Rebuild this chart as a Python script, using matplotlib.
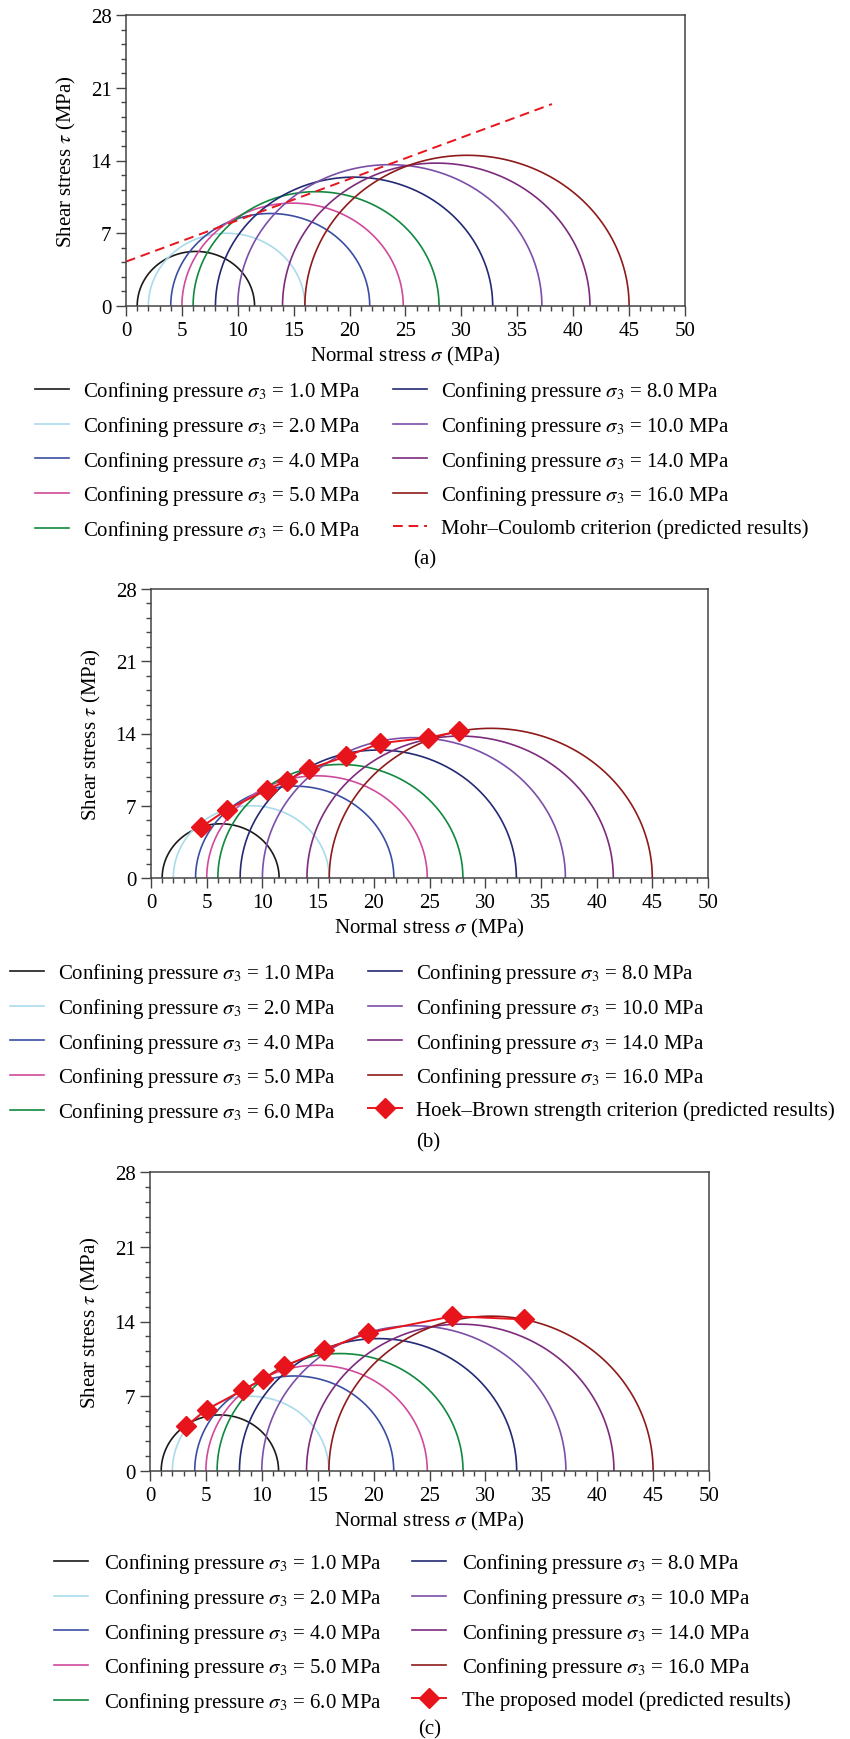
import numpy as np
from matplotlib import pyplot as plt
from matplotlib.ticker import MultipleLocator

plt.rcParams['font.family'] = ['Liberation Serif', 'DejaVu Serif']
plt.rcParams['mathtext.fontset'] = 'stix'

# Mohr circles: confining pressure sigma3 and peak stress sigma1, MPa
sigma3 = [1.0, 2.0, 4.0, 5.0, 6.0, 8.0, 10.0, 14.0, 16.0]
sigma1 = [11.5, 16.0, 21.8, 24.8, 28.0, 32.8, 37.2, 41.5, 45.0]
colors = ['#1a1a1a', '#a9dbeb', '#3b4ea3', '#d04a9c', '#10893f',
          '#232a74', '#7b4fa8', '#7d2b7d', '#8e1a1a']

# Mohr-Coulomb envelope (end points)
mc_sigma = [0.0, 38.1]
mc_tau = [4.27, 19.43]

# Hoek-Brown predicted points
hb_sigma = [4.47, 6.80, 10.41, 12.2, 14.16, 17.53, 20.55, 24.91, 27.66]
hb_tau = [4.91, 6.62, 8.53, 9.43, 10.56, 11.79, 13.05, 13.6, 14.21]

# proposed model predicted points
pm_sigma = [3.25, 5.07, 8.29, 10.07, 11.99, 15.55, 19.49, 27.05, 33.46]
pm_tau = [4.24, 5.75, 7.57, 8.58, 9.81, 11.35, 12.92, 14.49, 14.2]

W, H = 850, 1740
fig = plt.figure(figsize=(W / 100, H / 100), dpi=100)
FS = 15
GREY = '#444444'
RED = '#e8141c'


def px_axes(left, top, right, bottom):
    return fig.add_axes([left / W, 1 - bottom / H, (right - left) / W,
                         (bottom - top) / H])


def draw_circles(ax):
    handles = []
    for s3, s1, c in zip(sigma3, sigma1, colors):
        centre = (s1 + s3) / 2
        r = (s1 - s3) / 2
        th = np.linspace(np.pi, 0, 200)
        line, = ax.plot(centre + r * np.cos(th), r * np.sin(th), color=c,
                        lw=1.2)
        handles.append(line)
    return handles


def style(ax):
    ax.set_xlim(0, 50)
    ax.set_ylim(0, 28)
    ax.xaxis.set_major_locator(MultipleLocator(5))
    ax.xaxis.set_minor_locator(MultipleLocator(1))
    ax.yaxis.set_major_locator(MultipleLocator(7))
    ax.yaxis.set_minor_locator(MultipleLocator(1.4))
    ax.tick_params(which='both', direction='out', color=GREY,
                   labelsize=FS, top=False, right=False)
    ax.tick_params(which='major', length=7, width=1)
    ax.tick_params(which='minor', length=3.5, width=1)
    for sp in ax.spines.values():
        sp.set_color(GREY)
        sp.set_linewidth(1.1)
    ax.set_xlabel(r'Normal stress $\sigma$ (MPa)', fontsize=FS, labelpad=3)
    ax.set_ylabel(r'Shear stress $\tau$ (MPa)', fontsize=FS, labelpad=9)


def legends(ax, handles, labels, x1, x2, top, pad):
    kw = dict(loc='upper left', frameon=False, fontsize=FS,
              handlelength=1.65, handletextpad=pad / (FS * 100 / 72),
              labelspacing=0.52, borderpad=0, borderaxespad=0,
              bbox_transform=fig.transFigure)
    leg1 = ax.legend(handles[:5], labels[:5],
                     bbox_to_anchor=(x1 / W, 1 - top / H), **kw)
    ax.add_artist(leg1)
    ax.legend(handles[5:], labels[5:],
              bbox_to_anchor=(x2 / W, 1 - top / H), **kw)


labels = [r'Confining pressure $\sigma_3$ = %.1f MPa' % s for s in sigma3]

# (a) Mohr-Coulomb
ax = px_axes(126, 16, 685, 307)
h = draw_circles(ax)
mc, = ax.plot(mc_sigma, mc_tau, color=RED, lw=1.4, ls=(0, (5, 3)))
style(ax)
legends(ax, h + [mc], labels + ['Mohr–Coulomb criterion (predicted results)'],
        35, 393, 380, 14)
fig.text(0.5, 1 - 560 / H, '(a)', ha='center', va='center', fontsize=FS)

# (b) Hoek-Brown
ax = px_axes(151, 590, 708, 879)
h = draw_circles(ax)
hb, = ax.plot(hb_sigma, hb_tau, color=RED, lw=1.4, marker='D',
              ms=10, mec=RED, mfc=RED)
style(ax)
legends(ax, h + [hb],
        labels + ['Hoek–Brown strength criterion (predicted results)'],
        10, 368, 962, 14)
fig.text(428 / W, 1 - 1143 / H, '(b)', ha='center', va='center', fontsize=FS)

# (c) proposed model
ax = px_axes(150, 1173, 709, 1472)
h = draw_circles(ax)
pm, = ax.plot(pm_sigma, pm_tau, color=RED, lw=1.4, marker='D',
              ms=10, mec=RED, mfc=RED)
style(ax)
legends(ax, h + [pm], labels + ['The proposed model (predicted results)'],
        54, 412, 1552, 16)
fig.text(430 / W, 1 - 1730 / H, '(c)', ha='center', va='center', fontsize=FS)

fig.savefig('out.png', dpi=100)
